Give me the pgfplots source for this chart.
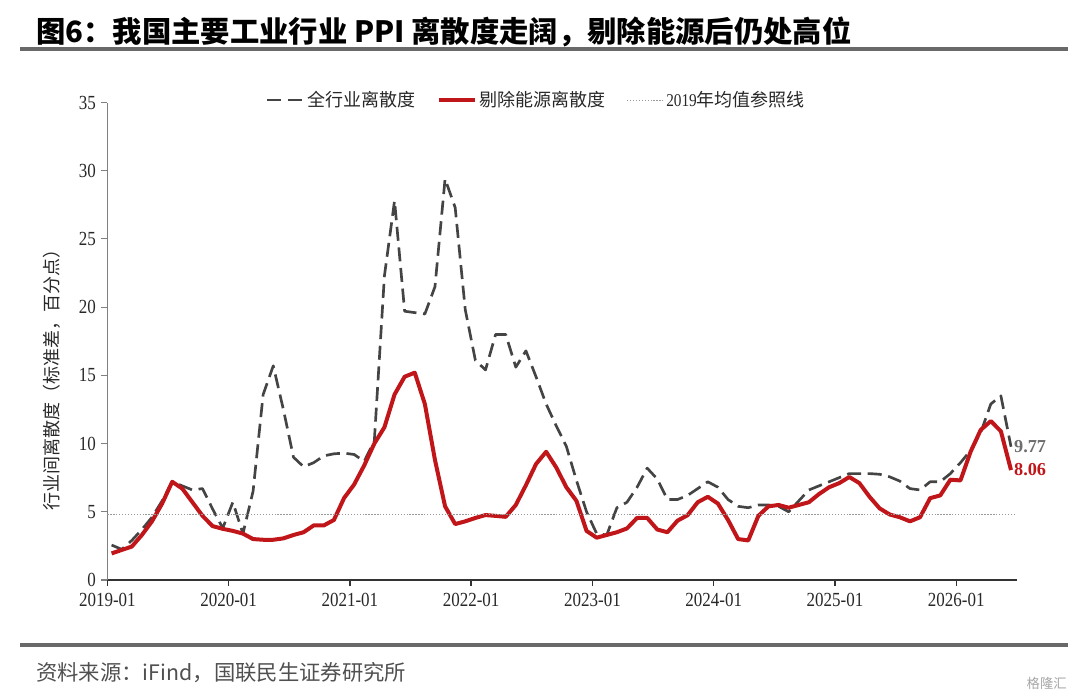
\documentclass[border=0pt]{standalone}
\usepackage{pgfplots}
\pgfplotsset{compat=1.18}
\usepackage{pgfplotstable}
\usepackage{fontspec}
\setmainfont{Liberation Serif}
\newfontfamily\cjk{Noto Sans CJK SC}
\newfontfamily\numfont[FakeStretch=0.85]{Liberation Serif}
\definecolor{redline}{RGB}{192,22,26}
\definecolor{grayline}{RGB}{68,68,68}
\definecolor{rulegray}{RGB}{105,105,105}
\definecolor{txt}{RGB}{40,40,40}
\definecolor{lbl}{RGB}{110,110,110}

\pgfplotstableread{
m all exe
0 2.56 1.95
1 2.25 2.2
2 2.9 2.45
3 3.7 3.3
4 4.6 4.3
5 5.8 5.6
6 7.2 7.2
7 6.9 6.7
8 6.6 5.7
9 6.7 4.7
10 5.2 3.95
11 3.8 3.75
12 5.7 3.6
13 3.4 3.4
14 6.5 3.0
15 13.6 2.95
16 15.7 2.95
17 12.5 3.05
18 9.0 3.3
19 8.3 3.5
20 8.6 4.0
21 9.1 4.0
22 9.25 4.4
23 9.3 6.0
24 9.2 7.0
25 8.7 8.4
26 10.2 10.0
27 22.3 11.2
28 27.8 13.6
29 19.7 14.9
30 19.6 15.2
31 19.5 12.9
32 21.5 8.8
33 29.4 5.4
34 27.3 4.1
35 19.8 4.3
36 16.1 4.55
37 15.4 4.76
38 18.0 4.7
39 18.0 4.63
40 15.6 5.5
41 16.8 6.95
42 14.9 8.5
43 12.9 9.4
44 11.3 8.25
45 9.8 6.8
46 7.3 5.8
47 5.0 3.6
48 3.4 3.1
49 3.3 3.3
50 5.3 3.5
51 5.7 3.78
52 6.8 4.55
53 8.2 4.55
54 7.4 3.7
55 5.9 3.5
56 5.9 4.35
57 6.2 4.75
58 6.7 5.7
59 7.2 6.1
60 6.8 5.6
61 5.9 4.4
62 5.4 3.0
63 5.3 2.9
64 5.5 4.7
65 5.5 5.4
66 5.4 5.5
67 5.0 5.3
68 5.8 5.5
69 6.6 5.7
70 6.9 6.3
71 7.2 6.8
72 7.5 7.1
73 7.8 7.55
74 7.8 7.1
75 7.8 6.1
76 7.75 5.25
77 7.56 4.8
78 7.25 4.6
79 6.7 4.3
80 6.6 4.6
81 7.2 6.0
82 7.2 6.2
83 7.8 7.35
84 8.6 7.3
85 9.5 9.4
86 10.8 11.0
87 12.9 11.65
88 13.5 10.9
89 9.77 8.06
}\data

\begin{document}
\begin{tikzpicture}
\path[use as bounding box] (0pt,0pt) rectangle (810pt,524.25pt);

% title
\node[anchor=west, inner sep=0pt, font=\cjk\bfseries\fontsize{22}{26}\selectfont, text=black] at (27pt,500.25pt) {图6：我国主要工业行业 PPI 离散度走阔，剔除能源后仍处高位};
\draw[rulegray, line width=2.3pt] (15pt,487.5pt) -- (801pt,487.5pt);

% source
\draw[rulegray, line width=2.3pt] (15pt,40.5pt) -- (801pt,40.5pt);
\node[anchor=west, inner sep=0pt, font=\cjk\fontsize{16}{19}\selectfont, text={rgb,255:red,80;green,80;blue,80}] at (27pt,19.5pt) {资料来源：iFind，国联民生证券研究所};
\node[anchor=center, inner sep=0pt, font=\cjk\fontsize{10}{12}\selectfont, text=black!35] at (785pt,12pt) {格隆汇};

% y label
\node[rotate=90, inner sep=0pt, font=\cjk\fontsize{13.5}{16}\selectfont, text=txt] at (38.5pt,242.25pt) {行业间离散度（标准差，百分点）};

\begin{axis}[
  at={(80.5pt,89.25pt)}, anchor=south west,
  scale only axis, width=682.3pt, height=358.1pt,
  xmin=-0.42, xmax=89.6, ymin=0, ymax=35,
  enlargelimits=false, clip=false,
  axis x line*=bottom, axis y line*=left,
  x axis line style={color=black!80, line width=1.3pt},
  y axis line style={color=black!50, line width=0.9pt},
  xtick={-0.42,11.58,23.58,35.58,47.58,59.58,71.58,83.58},
  xticklabels={2019-01,2020-01,2021-01,2022-01,2023-01,2024-01,2025-01,2026-01},
  ytick={0,5,10,15,20,25,30,35},
  yticklabels={0,5,10,15,20,25,30,35},
  tick align=outside, major tick length=4.5pt,
  x tick style={color=black!80, line width=1pt},
  y tick style={color=black!50, line width=0.8pt},
  ticklabel style={font=\numfont\fontsize{15}{17}\selectfont, text=txt},
  xticklabel style={yshift=-1.8pt},
  yticklabel style={xshift=-0.5pt},
  /pgf/number format/assume math mode=true,
  legend columns=3,
  legend style={at={(0.472,1.005)}, anchor=center, draw=none, fill=none,
    font=\fontsize{13.5}{16}\selectfont, text=txt,
    /tikz/every even column/.append style={column sep=14pt}},
  legend cell align=left,
  legend image code/.code={\draw[#1] (0pt,0pt) -- (27pt,0pt);},
]
\addplot[grayline, line width=2pt, dash pattern=on 10.5pt off 5pt, line join=round] table[x=m,y=all] {\data};
\addlegendentry{\cjk 全行业离散度}
\addplot[redline, line width=3pt, line join=round] table[x=m,y=exe] {\data};
\addlegendentry{\cjk 剔除能源离散度}
\addplot[black!40, line width=0.8pt, dash pattern=on 1pt off 1.2pt] coordinates {(-0.42,4.82) (89.3,4.82)};
\addlegendentry{{\numfont 2019}{\cjk 年均值参照线}}

\node[anchor=west, inner sep=1pt, font=\bfseries\fontsize{13.7}{16}\selectfont, text=lbl] at (axis cs:89.15,9.77) {9.77};
\node[anchor=west, inner sep=1pt, font=\bfseries\fontsize{13.7}{16}\selectfont, text=redline] at (axis cs:89.15,8.06) {8.06};
\end{axis}
\end{tikzpicture}
\end{document}
